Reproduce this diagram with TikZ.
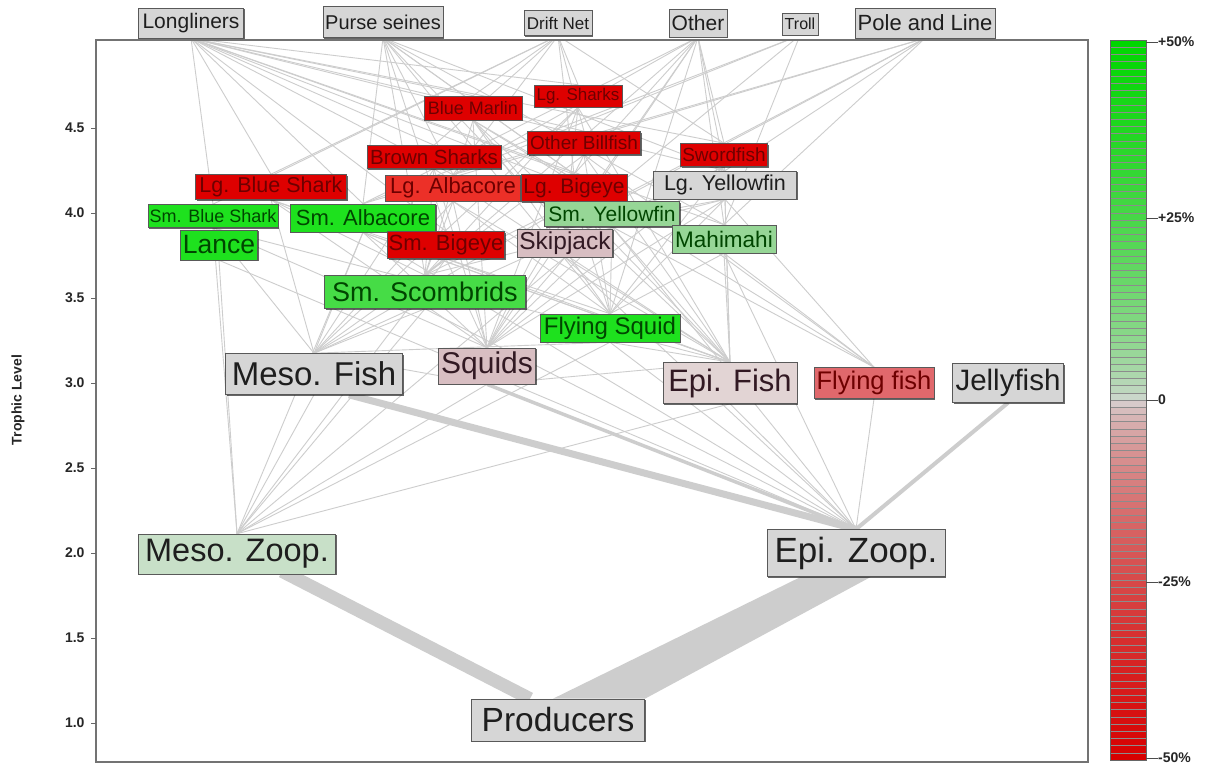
\documentclass[tikz,border=0pt]{standalone}
\usepackage{fontspec}
\setmainfont{Liberation Sans}
\setsansfont{Liberation Sans}
\usetikzlibrary{shadows,backgrounds,calc}
\newcommand\myfs[1]{\fontsize{#1}{#1}\selectfont}
\definecolor{cR}{RGB}{222,0,0}
\definecolor{cRb}{RGB}{236,48,40}
\definecolor{tR}{RGB}{110,0,0}
\definecolor{cG}{RGB}{30,225,30}
\definecolor{cGb}{RGB}{70,220,70}
\definecolor{cLG}{RGB}{150,214,150}
\definecolor{tG}{RGB}{0,70,0}
\definecolor{cMZ}{RGB}{200,224,200}
\definecolor{cGr}{RGB}{214,214,214}
\definecolor{cP}{RGB}{216,190,194}
\definecolor{cPb}{RGB}{226,212,212}
\definecolor{cFF}{RGB}{224,104,108}
\definecolor{tK}{RGB}{30,30,30}
\definecolor{tP}{RGB}{50,25,35}
\definecolor{cbG}{RGB}{0,215,0}
\definecolor{cbM}{RGB}{215,215,215}
\definecolor{cbR}{RGB}{215,0,0}
\definecolor{edgec}{RGB}{205,205,205}
\tikzset{
  nd/.style={draw=black!65, line width=0.6pt, inner sep=0pt,
    drop shadow={shadow xshift=1.3pt,shadow yshift=-1.3pt,opacity=0.6,fill=black}},
  edge/.style={draw=edgec, line width=0.9pt},
  thick edge/.style={draw=edgec, line cap=butt},
  axlab/.style={font=\bfseries\myfs{14}, text=black!85},
}
\newcommand\mynode[9]{\node[nd,fill=#7,text=#8,minimum width=#4pt,minimum height=#5pt,font=\myfs{#6}] (#1) at (#2,-#3) {#9};}
\begin{document}
\begin{tikzpicture}[x=1pt,y=1pt]
\begin{scope}[on background layer]
\fill[white] (0,0) rectangle (1211,-767);
\end{scope}
\useasboundingbox (0,0) rectangle (1211,-767);

% gear
\mynode{ll}{191}{23}{105}{30}{21}{cGr}{tK}{Longliners}
\mynode{ps}{383}{22}{120}{31}{20}{cGr}{tK}{Purse seines}
\mynode{dn}{558}{23}{68}{25}{17}{cGr}{tK}{Drift Net}
\mynode{ot}{698}{23}{58}{28}{21}{cGr}{tK}{Other}
\mynode{tr}{800}{24}{36}{22}{16}{cGr}{tK}{Troll}
\mynode{pl}{925}{23}{140}{30}{22}{cGr}{tK}{Pole and Line}

% species
\mynode{bm}{473}{108}{98}{24}{18}{cR}{tR}{Blue Marlin}
\mynode{ls}{578}{96}{88}{22}{17}{cR}{tR}{Lg. Sharks}
\mynode{ob}{584}{143}{113}{23}{19}{cR}{tR}{Other Billfish}
\mynode{sw}{724}{155}{87}{23}{19}{cR}{tR}{Swordfish}
\mynode{bs}{434}{157}{134}{23}{20.5}{cR}{tR}{Brown Sharks}
\mynode{lbs}{271}{187}{151}{25}{21.5}{cR}{tR}{Lg. Blue Shark}
\mynode{la}{453}{188}{135}{26}{22}{cRb}{tR}{Lg. Albacore}
\mynode{lb}{574}{188}{106}{27}{21}{cR}{tR}{Lg. Bigeye}
\mynode{ly}{725}{185}{143}{28}{21.5}{cGr}{tK}{Lg. Yellowfin}
\mynode{sbs}{213}{216}{130}{23}{18}{cG}{tG}{Sm. Blue Shark}
\mynode{sa}{363}{218}{145}{28}{22}{cG}{tG}{Sm. Albacore}
\mynode{sy}{612}{214}{135}{25}{21}{cLG}{tG}{Sm. Yellowfin}
\mynode{lan}{219}{245}{77}{30}{26.5}{cG}{tG}{Lance}
\mynode{sb}{446}{245}{117}{27}{22}{cR}{tR}{Sm. Bigeye}
\mynode{sk}{565}{243}{95}{28}{24.5}{cP}{tP}{Skipjack}
\mynode{mm}{724}{239}{104}{28}{22.5}{cLG}{tG}{Mahimahi}
\mynode{ssc}{425}{292}{201}{33}{27}{cGb}{tG}{Sm. Scombrids}
\mynode{fsq}{610}{328}{140}{28}{24}{cG}{tG}{Flying Squid}
\mynode{mf}{314}{374}{177}{41}{33}{cGr}{tK}{Meso. Fish}
\mynode{sq}{487}{366}{97}{36}{30}{cP}{tP}{Squids}
\mynode{ef}{730}{383}{134}{41}{31}{cPb}{tP}{Epi. Fish}
\mynode{ff}{874}{383}{120}{31}{25.5}{cFF}{tR}{Flying fish}
\mynode{jf}{1008}{383}{111}{39}{29.5}{cGr}{tK}{Jellyfish}
\mynode{mz}{237}{554}{197}{40}{32.5}{cMZ}{tK}{Meso. Zoop.}
\mynode{ez}{856}{553}{178}{47}{35}{cGr}{tK}{Epi. Zoop.}
\mynode{pr}{558}{720}{173}{42}{33.5}{cGr}{tK}{Producers}

% connectors
\begin{scope}[on background layer]
\clip (96,-40) rectangle (1088,-762);
\foreach \a/\b in {ll/lbs,ll/sbs,ll/bm,ll/ls,ll/ob,ll/sw,ll/bs,ll/la,ll/lb,ll/ly,ll/sb,ll/mm,ll/sa,ll/sy,
  ps/sk,ps/sy,ps/ly,ps/ssc,ps/sb,ps/sa,ps/mm,ps/la,ps/lb,ps/fsq,
  dn/sw,dn/bs,dn/ls,dn/bm,dn/lbs,dn/sbs,dn/la,dn/ob,dn/lb,
  ot/ssc,ot/fsq,ot/sq,ot/la,ot/sa,ot/mm,ot/sk,ot/sw,ot/lb,ot/ly,
  tr/la,tr/sa,tr/mm,tr/sk,
  pl/sk,pl/sy,pl/ly,pl/sa,pl/mm,pl/la}
  \draw[edge] (\a.south) -- (\b.north);
\foreach \a/\b in {bm/ef,bm/sq,bm/ssc,bm/sk,bm/fsq,bm/ff,bm/sy,
  ls/ef,ls/sq,ls/ssc,ls/sk,ls/mf,
  ob/ef,ob/ff,ob/fsq,ob/sq,ob/ssc,
  sw/sq,sw/mf,sw/ef,sw/fsq,
  bs/ef,bs/sq,bs/mf,bs/ssc,
  lbs/mf,lbs/sq,lbs/ef,lbs/ssc,lbs/fsq,
  la/ssc,la/sq,la/ef,la/mf,la/fsq,
  lb/mf,lb/sq,lb/ef,lb/fsq,lb/ssc,
  ly/ef,ly/ff,ly/sq,ly/fsq,ly/ssc,ly/sk,
  sbs/sq,sbs/mf,sbs/ef,sbs/mz,
  sa/mf,sa/ez,sa/sq,sa/ef,sa/mz,
  sy/ef,sy/ff,sy/ez,sy/sq,sy/fsq,
  lan/mz,lan/ez,
  sb/mf,sb/sq,sb/ef,sb/mz,
  sk/ef,sk/ez,sk/sq,sk/mz,
  mm/ff,mm/ef,mm/fsq,mm/ez,
  ssc/ez,ssc/mz,ssc/mf,
  fsq/ef,fsq/ez,fsq/mf,fsq/mz,
  mf/mz,sq/mf,sq/ef,sq/mz,ef/ez,ef/mz,ff/ez}
  \draw[edge] (\a.south) -- (\b.north);
\draw[thick edge, line width=7pt] ($(mf.south)+(35,0)$) -- (ez.north);
\draw[thick edge, line width=3.5pt] (sq.south) -- (ez.north);
\draw[thick edge, line width=4pt] (jf.south) -- (ez.north);
\draw[thick edge, line width=13pt] ($(mz.south)+(45,3)$) -- ($(pr.north)+(-28,0)$);
\fill[edgec] ($(pr.north)+(-5,0)$) -- ($(pr.north)+(87,0)$) -- ($(ez.south)+(15,0)$) -- ($(ez.south)+(-55,0)$) -- cycle;
\end{scope}

% frame
\draw[draw=black!55, line width=1.5pt] (96,-40) rectangle (1088,-762);

% y axis
\foreach \v/\y in {4.5/128,4.0/213,3.5/298,3.0/383,2.5/468,2.0/553,1.5/638,1.0/723}{
  \draw[black!60, line width=0.6pt] (91,-\y) -- (96,-\y);
  \node[axlab, anchor=east] at (88,-\y) {\v};
}
\node[axlab, rotate=90] (ylab) at (18,-400) {Trophic Level};

% colour bar
\foreach \i in {0,...,99}{
  \pgfmathtruncatemacro{\p}{100*(abs(49.5-\i)/49.5)^0.6}
  \ifnum\i<50 \colorlet{cbc}{cbG!\p!cbM}\else\colorlet{cbc}{cbR!\p!cbM}\fi
  \fill[cbc] (1110,-40-\i*7.2) rectangle (1146,-47.2-\i*7.2);
}
\foreach \i in {1,...,99}{
  \draw[black!45, line width=0.5pt] (1110,-40-\i*7.2) -- (1146,-40-\i*7.2);
}
\draw[black!60, line width=0.8pt] (1110,-40) rectangle (1146,-760);
\foreach \t/\y in {+50\%/42,+25\%/218,0/400,-25\%/582,-50\%/758}{
  \draw[black!70, line width=0.7pt] (1146,-\y) -- (1158,-\y);
  \node[axlab, anchor=west, inner sep=1pt] at (1157,-\y) {\t};
}
\end{tikzpicture}
\end{document}
